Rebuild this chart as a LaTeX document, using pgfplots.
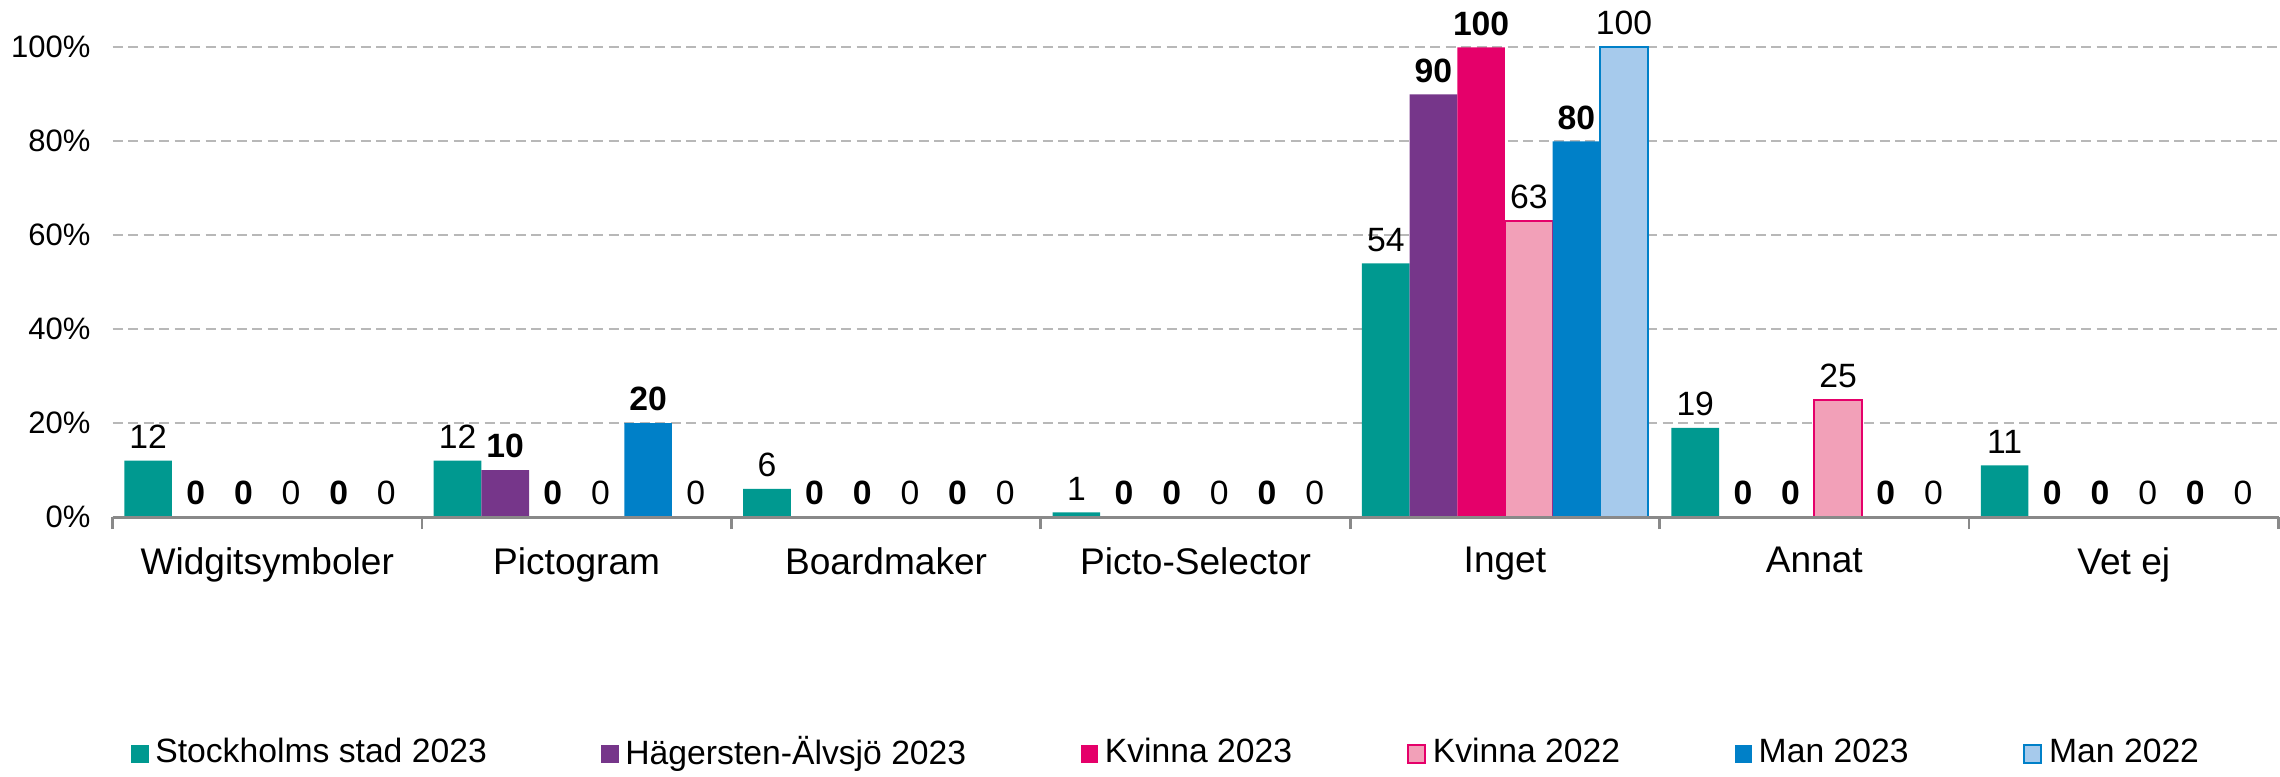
\documentclass[border=0pt]{standalone}
\usepackage{pgfplots}
\pgfplotsset{compat=1.18}
\usepackage{fontspec}
\setmainfont{Liberation Sans}

\definecolor{cTeal}{RGB}{0,153,144}
\definecolor{cPurple}{RGB}{118,54,138}
\definecolor{cMagenta}{RGB}{229,0,106}
\definecolor{cPink}{RGB}{242,160,184}
\definecolor{cBlue}{RGB}{0,128,200}
\definecolor{cLightBlue}{RGB}{166,202,236}
\definecolor{cAxis}{RGB}{137,137,137}

\newcommand{\lblfont}{\fontsize{10}{12}\selectfont}

\begin{document}
\begin{tikzpicture}
\begin{axis}[
    width=642.8pt, height=139.4pt, scale only axis,
    ybar=0pt, bar width=0.154,
    xmin=-0.5, xmax=6.5, ymin=0, ymax=100,
    clip=false,
    axis x line*=bottom, axis y line*=left,
    y axis line style={draw=none},
    x axis line style={draw=cAxis, line width=0.9pt},
    xtick={0,...,6},
    xticklabels={Widgitsymboler,Pictogram,Boardmaker,Picto-Selector,Inget,Annat,Vet ej},
    minor xtick={-0.5,0.5,...,6.5},
    major tick length=0pt,
    minor tick length=3.6pt,
    tick align=outside,
    minor tick style={draw=cAxis, line width=0.8pt},
    xticklabel style={font=\fontsize{11}{13}\selectfont, yshift=-5.5pt},
    ytick={0,20,...,100},
    yticklabel={\pgfmathprintnumber{\tick}\%},
    yticklabel style={font=\fontsize{9.2}{11}\selectfont, xshift=-3pt},
    /pgf/number format/assume math mode=true,
    ymajorgrids=true,
    grid style={draw=black!28, dash pattern=on 3pt off 1.6pt, line width=0.6pt},
    nodes near coords,
    nodes near coords style={font=\lblfont, text=black},
    legend style={at={(axis description cs:0.5,0)}, anchor=center,
        xshift=-8pt, yshift=-70pt, inner sep=0pt,
        draw=none, font=\lblfont, legend columns=6,
        /tikz/every even column/.append style={column sep=32pt}},
    legend image code/.code={\path[#1] (0.02cm,-0.1cm) rectangle (0.2cm,0.08cm);},
]

\addplot[fill=cTeal, draw=none]
    coordinates {(0,12) (1,12) (2,6) (3,1) (4,54) (5,19) (6,11)};
\addlegendentry{Stockholms stad 2023}

\addplot[fill=cPurple, draw=none, nodes near coords style={font=\lblfont\bfseries}]
    coordinates {(0,0) (1,10) (2,0) (3,0) (4,90) (5,0) (6,0)};
\addlegendentry{Hägersten-Älvsjö 2023}

\addplot[fill=cMagenta, draw=none, nodes near coords style={font=\lblfont\bfseries}]
    coordinates {(0,0) (1,0) (2,0) (3,0) (4,100) (5,0) (6,0)};
\addlegendentry{Kvinna 2023}

\addplot[fill=cPink, draw=cMagenta, line width=0.6pt]
    coordinates {(0,0) (1,0) (2,0) (3,0) (4,63) (5,25) (6,0)};
\addlegendentry{Kvinna 2022}

\addplot[fill=cBlue, draw=none, nodes near coords style={font=\lblfont\bfseries}]
    coordinates {(0,0) (1,20) (2,0) (3,0) (4,80) (5,0) (6,0)};
\addlegendentry{Man 2023}

\addplot[fill=cLightBlue, draw=cBlue, line width=0.6pt]
    coordinates {(0,0) (1,0) (2,0) (3,0) (4,100) (5,0) (6,0)};
\addlegendentry{Man 2022}

% redraw the baseline over the flat outlines of the zero bars
\draw[cAxis, line width=0.9pt] (axis cs:-0.5,0) -- (axis cs:6.5,0);

\end{axis}
\end{tikzpicture}
\end{document}
